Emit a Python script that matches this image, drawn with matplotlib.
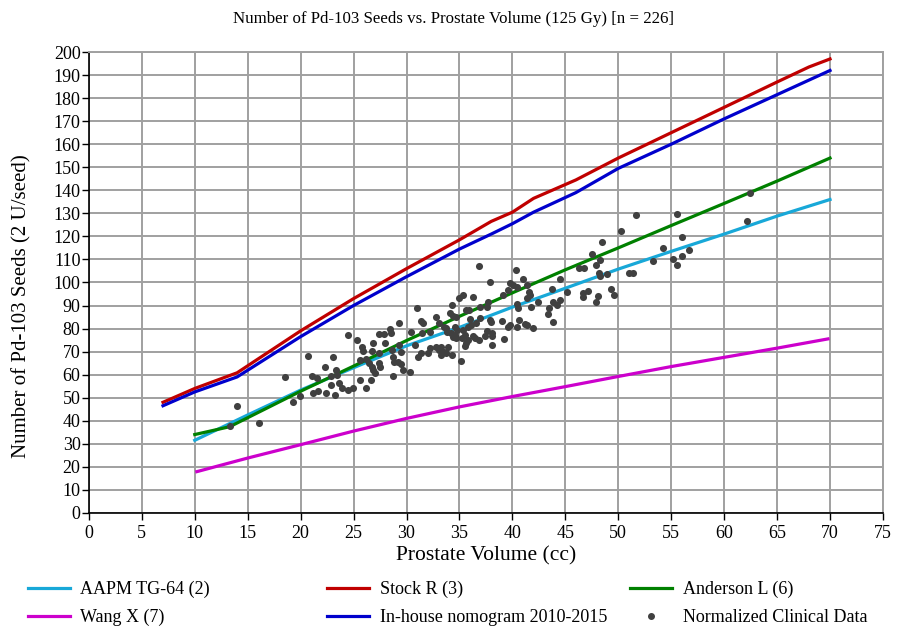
import numpy as np
import matplotlib
matplotlib.use("Agg")
import matplotlib.pyplot as plt
from matplotlib.lines import Line2D

plt.rcParams['font.family'] = ['Liberation Serif', 'DejaVu Serif']

# nomogram curves (volume cc -> seeds)
aapm_x = [10, 15, 20, 25, 30, 35, 40, 45, 50, 55, 60, 65, 70]
aapm_y = [31.5, 42.5, 53.3, 63, 72.5, 80.5, 89.3, 97.5, 105.8, 113.5, 121, 128.8, 136]

stock_x = [7, 10, 14, 20, 25, 30, 35, 38, 40, 42, 46, 50, 55, 60, 65, 68, 70]
stock_y = [48, 54, 60.8, 79, 93, 106, 118.5, 126.5, 130.5, 136.5, 144.5, 154, 165, 176, 187, 193.5, 197]

anderson_x = [10, 13.3, 20, 25, 30, 35, 40, 45, 50, 55, 60, 65, 70]
anderson_y = [34, 37.4, 52.8, 63.7, 74.8, 85.3, 95.5, 105.5, 115, 124.7, 134.3, 144, 154]

wang_x = [10.2, 15, 20, 25, 30, 35, 40, 45, 50, 55, 60, 65, 69.8]
wang_y = [17.9, 23.8, 29.6, 35.5, 41, 46, 50.5, 54.8, 59.2, 63.5, 67.5, 71.5, 75.5]

inhouse_x = [7, 10, 14, 20, 25, 30, 35, 38, 40, 42, 46, 50, 55, 60, 65, 70]
inhouse_y = [46.5, 52.5, 59, 76.5, 90, 102.5, 114.5, 121, 125.5, 130.5, 139, 149.5, 160, 171, 181.5, 192]

# normalized clinical data
clin_x = [13.3, 14.0, 16.05, 18.5, 19.3, 19.9, 20.7, 21.1, 21.5, 21.2, 21.6, 22.3, 23.1, 23.3,
          22.4, 22.9, 23.2, 22.85, 23.4, 23.6, 23.95, 24.5, 24.5,
          31.0, 29.3, 28.4, 28.5, 27.4, 27.9, 25.3, 26.8, 27.95, 25.75, 25.85, 26.7, 27.4, 28.6,
          29.3, 29.5, 30.4, 30.8, 31.4, 31.6, 31.5, 32.2, 32.8, 33.1, 33.7, 33.8, 25.6, 26.2,
          26.5, 26.7, 26.8, 27.5, 27.4, 27.0, 28.7, 28.8, 29.2, 29.5, 29.7, 30.3, 28.7, 25.6,
          26.6, 26.2, 24.9, 31.1, 31.4, 32.0, 32.2, 32.8, 33.1, 33.3, 33.7, 33.9,
          36.8, 37.9, 40.3, 39.8, 40.1, 40.4, 41.0, 41.4, 41.6, 41.4, 41.7, 39.1, 39.6, 35.3,
          35.0, 36.3, 34.3, 37.7, 36.9, 37.6, 40.4, 40.5, 41.8, 42.4, 34.1, 34.4, 34.7, 35.6,
          35.9, 36.0, 36.1, 36.6, 35.8, 36.9, 38.0, 37.9, 39.0, 40.6, 40.4, 41.2, 41.4, 41.9,
          39.6, 39.8, 33.5, 34.6, 34.8, 34.2, 34.4, 34.7, 34.6, 35.3, 35.5, 35.2, 35.6, 35.8,
          35.5, 36.3, 36.5, 36.8, 37.4, 37.6, 38.1, 38.1, 39.2, 38.1, 33.3, 33.5, 34.3, 35.1,
          51.7, 50.3, 48.5, 47.5, 48.3, 47.9, 46.3, 46.8, 48.2, 48.3, 48.9, 51.0, 51.4, 44.5,
          43.7, 45.2, 46.7, 47.1, 46.7, 48.1, 47.9, 49.3, 49.6, 43.8, 44.2, 44.5, 43.5, 43.4,
          43.8,
          62.4, 62.2, 55.5, 56.0, 54.2, 56.7, 53.3, 55.2, 56.0, 55.5]
clin_y = [37.7, 46.4, 39.2, 58.9, 48.0, 50.9, 68.2, 59.4, 58.7, 51.9, 53.1, 63.5, 67.5, 62,
          51.9, 55.5, 51.3, 59.4, 59.9, 56.3, 54.1, 77.4, 53.4,
          88.8, 82.3, 79.7, 78, 77.7, 77.7, 75, 73.9, 73.9, 72.1, 70.1, 70.4, 69.5, 70.7,
          72.9, 70, 78.7, 72.9, 83.4, 82.3, 78, 78.7, 85.2, 82.3, 80.1, 78.7, 66.4, 66.7,
          64.9, 63.5, 62.1, 63.5, 64.9, 60.6, 67.8, 65.6, 65.6, 64.5, 62, 61.3, 59.4, 57.7,
          57.7, 54.1, 54.1, 67.8, 69.3, 69.5, 71.4, 72.1, 70.7, 68.5, 69.3, 72.1,
          107.2, 100.1, 105.4, 99.7, 98.9, 98.2, 101.5, 98.9, 96, 93.1, 94.6, 94.6, 96.7, 94.6,
          93.1, 93.8, 90.2, 91.7, 89.5, 89.2, 90.7, 88.8, 89.5, 91.7, 86.6, 85.5, 85.2, 88.1,
          88.1, 84, 81.6, 82.6, 80.8, 84.5, 83, 83.7, 83.3, 83.7, 80.8, 81.9, 81.6, 80.4,
          80.8, 81.6, 80.8, 80.8, 79.4, 78, 76.2, 75.8, 77.2, 79.4, 77.2, 75.8, 73.6, 75,
          72.4, 76.8, 75.8, 75, 76.8, 79, 78, 76.8, 75.3, 72.9, 72.1, 70, 68.5, 65.9,
          129.3, 122.5, 117.7, 112.4, 109.8, 107.6, 106.2, 106.4, 104.3, 103, 103.7, 104.3, 104, 101.5,
          97.2, 95.7, 95.6, 96.2, 93.6, 94.3, 91.7, 97.2, 94.6, 91.7, 90.2, 92.4, 88.8, 86.2,
          83,
          139, 126.8, 129.6, 119.9, 115.1, 114, 109.3, 110.2, 111.5, 107.5]

fig = plt.figure(figsize=(9.07, 6.27), dpi=100)
ax = fig.add_axes([0.098, 0.182, 0.8755, 0.735])

grid_c = '#a0a0a0'
ax.plot(aapm_x, aapm_y, color='#18a8d8', lw=2.3, zorder=3)
ax.plot(stock_x, stock_y, color='#c00000', lw=2.3, zorder=3)
ax.plot(anderson_x, anderson_y, color='#008000', lw=2.3, zorder=3)
ax.plot(wang_x, wang_y, color='#cc00cc', lw=2.3, zorder=3)
ax.plot(inhouse_x, inhouse_y, color='#0000cc', lw=2.3, zorder=3)
ax.scatter(clin_x, clin_y, s=26, color='#404040', zorder=4, linewidths=0)

ax.set_xlim(0, 75)
ax.set_ylim(0, 200)
ax.set_xticks(np.arange(0, 76, 5))
ax.set_yticks(np.arange(0, 201, 10))
ax.grid(True, color=grid_c, lw=1.4)
ax.set_axisbelow(True)
for s in ['top', 'right']:
    ax.spines[s].set_color(grid_c)
    ax.spines[s].set_linewidth(1.4)
for s in ['left', 'bottom']:
    ax.spines[s].set_color('black')
    ax.spines[s].set_linewidth(1.2)
ax.tick_params(direction='out', length=5, width=1, labelsize=13, color='black')
ax.tick_params(axis='y', pad=1)

fig.text(0.5, 0.97, 'Number of Pd-103 Seeds vs. Prostate Volume (125 Gy) [n = 226]',
         fontsize=12.2, ha='center', va='center')
ax.set_xlabel('Prostate Volume (cc)', fontsize=15.5, labelpad=3.5)
ax.set_ylabel('Number of Pd-103 Seeds (2 U/seed)', fontsize=15)
ax.yaxis.set_label_coords(-0.072, 0.449)

def line_handle(c):
    return Line2D([], [], color=c, lw=2.3)

dot = Line2D([], [], color='#404040', marker='o', ls='none', markersize=4)
groups = [
    (0.031, [line_handle('#18a8d8'), line_handle('#cc00cc')], ['AAPM TG-64 (2)', 'Wang X (7)']),
    (0.361, [line_handle('#c00000'), line_handle('#0000cc')], ['Stock R (3)', 'In-house nomogram 2010-2015']),
    (0.695, [line_handle('#008000'), dot], ['Anderson L (6)', 'Normalized Clinical Data']),
]
for x0, hs, ls in groups:
    fig.legend(hs, ls, loc='upper left', bbox_to_anchor=(x0, 0.0734), frameon=False,
               fontsize=13, handlelength=2.3, handletextpad=0.6, labelspacing=0.6,
               borderpad=0, borderaxespad=0, bbox_transform=fig.transFigure)

fig.savefig('out.png', dpi=100)
